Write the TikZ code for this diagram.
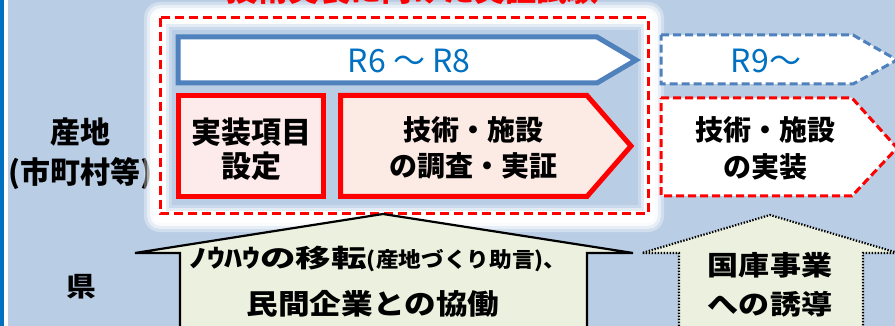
\documentclass[tikz,border=0pt]{standalone}
\usepackage{fontspec}
\usepackage{graphicx}
\newfontfamily\jp{Noto Sans CJK JP}
\definecolor{bgblue}{HTML}{B9CDE5}
\definecolor{barblue}{HTML}{0070C0}
\definecolor{bdblue}{HTML}{4F81BD}
\definecolor{txblue}{HTML}{0070C0}
\definecolor{pinkA}{HTML}{FDEAEA}
\definecolor{pinkB}{HTML}{FCEAE4}
\definecolor{greenfill}{HTML}{EBF1DE}
\definecolor{redline}{HTML}{FF0000}
\tikzset{
  lbl/.style={inner sep=0pt, align=center, text=black},
  redbox/.style={draw=redline, line width=5pt, line join=miter},
  reddash/.style={draw=redline, line width=3pt, dash pattern=on 9pt off 5pt},
  bluedash/.style={draw=bdblue, line width=3pt, dash pattern=on 8pt off 4pt, fill=white},
  upsolid/.style={draw=black, line width=2.2pt, fill=greenfill, line join=miter},
  updotted/.style={draw=black, line width=2.2pt, dash pattern=on 1.4pt off 1.6pt, fill=greenfill},
}
\begin{document}
\begin{tikzpicture}[x=1pt,y=-1pt]
\useasboundingbox (0,0) rectangle (895,326);
% background
\fill[bgblue] (0,0) rectangle (895,326);
\fill[barblue] (0,0) rectangle (4,326);
\fill[white] (4,0) rectangle (8,326);
% row labels
\node[lbl, font=\jp\bfseries\fontsize{30}{40}\selectfont] (sanchi) at (81,154) {産地\\(市町村等)};
\node[lbl, font=\jp\bfseries\fontsize{27}{30}\selectfont] (ken) at (81,287) {\scalebox{1.1}[1]{県}};
% glow
\fill[white, opacity=0.35, rounded corners=16pt] (144,2) rectangle (664,232);
\fill[white, opacity=0.5, rounded corners=13pt] (147,5) rectangle (661,229);
\fill[white, opacity=0.8, rounded corners=11pt] (150,8) rectangle (658,226);
\fill[white, rounded corners=9pt] (153,11) rectangle (655,223);
\fill[bgblue!40!white] (166,24) rectangle (644,211);
\fill[bgblue!75!white] (169,27) rectangle (641,208);
\fill[bgblue] (172,30) rectangle (638,205);
% title (cut off at top, as in the reference)
\begin{scope}
\clip (0,0) rectangle (895,326);
\node[inner sep=0pt, anchor=base, text=redline, font=\jp\bfseries\fontsize{31}{31}\selectfont] (title) at (412,1.5) {技術実装に向けた実証試験};
\end{scope}
% red dashed frame
\draw[reddash] (160,18) rectangle (648,214);
% R6 ~ R8 arrow
\draw[draw=bdblue, line width=5pt, fill=white, line join=miter] (178,37) -- (597,37) -- (636,60) -- (597,83) -- (178,83) -- cycle;
\node[inner sep=0pt, text=txblue, font=\jp\fontsize{32}{32}\selectfont] (r6) at (409,61) {R6 ～ R8};
% R9 arrow
\draw[bluedash] (661,35) -- (853,35) -- (897,60) -- (853,84) -- (661,84) -- cycle;
\node[inner sep=0pt, text=txblue, font=\jp\fontsize{32}{32}\selectfont] (r9) at (766,61) {R9～};
% red boxes
\draw[redbox, fill=pinkA] (178.5,95.5) rectangle (323.5,196.5);
\node[lbl, font=\jp\bfseries\fontsize{30}{34}\selectfont] (setting) at (251,149) {実装項目\\設定};
\draw[redbox, fill=pinkB] (340.5,95.5) -- (587,95.5) -- (631,146) -- (587,196.5) -- (340.5,196.5) -- cycle;
\node[lbl, font=\jp\bfseries\fontsize{28}{36}\selectfont] (survey) at (473,148) {技術・施設\\の調査・実証};
\draw[reddash, fill=white, line width=3pt, dash pattern=on 8pt off 4pt] (661,98) -- (852,98) -- (897,148) -- (852,196) -- (661,196) -- cycle;
\node[lbl, font=\jp\bfseries\fontsize{28}{37}\selectfont] (impl) at (765,148.5) {技術・施設\\の実装};
% up arrows
\draw[upsolid] (180,335) -- (180,253) -- (135,253) -- (383,214) -- (633,253) -- (587,253) -- (587,335);
\node[lbl, font=\jp\bfseries, anchor=base] (know1) at (378,267) {\scalebox{1.42}[1]{\fontsize{25}{25}\selectfont ﾉｳﾊｳの移転}\scalebox{1.08}[1]{\fontsize{21}{21}\selectfont (産地づくり助言)、}};
\node[lbl, font=\jp\bfseries\fontsize{28}{28}\selectfont] (know2) at (373,304) {\scalebox{1.13}[1]{民間企業との協働}};
\draw[updotted] (679,335) -- (679,253) -- (642,253) -- (770,215) -- (898,253) -- (863,253) -- (863,335);
\node[lbl, font=\jp\bfseries\fontsize{27}{39}\selectfont] (kokko) at (770,285) {\scalebox{1.15}[1]{国庫事業}\\\scalebox{1.15}[1]{への誘導}};
\end{tikzpicture}
\end{document}
